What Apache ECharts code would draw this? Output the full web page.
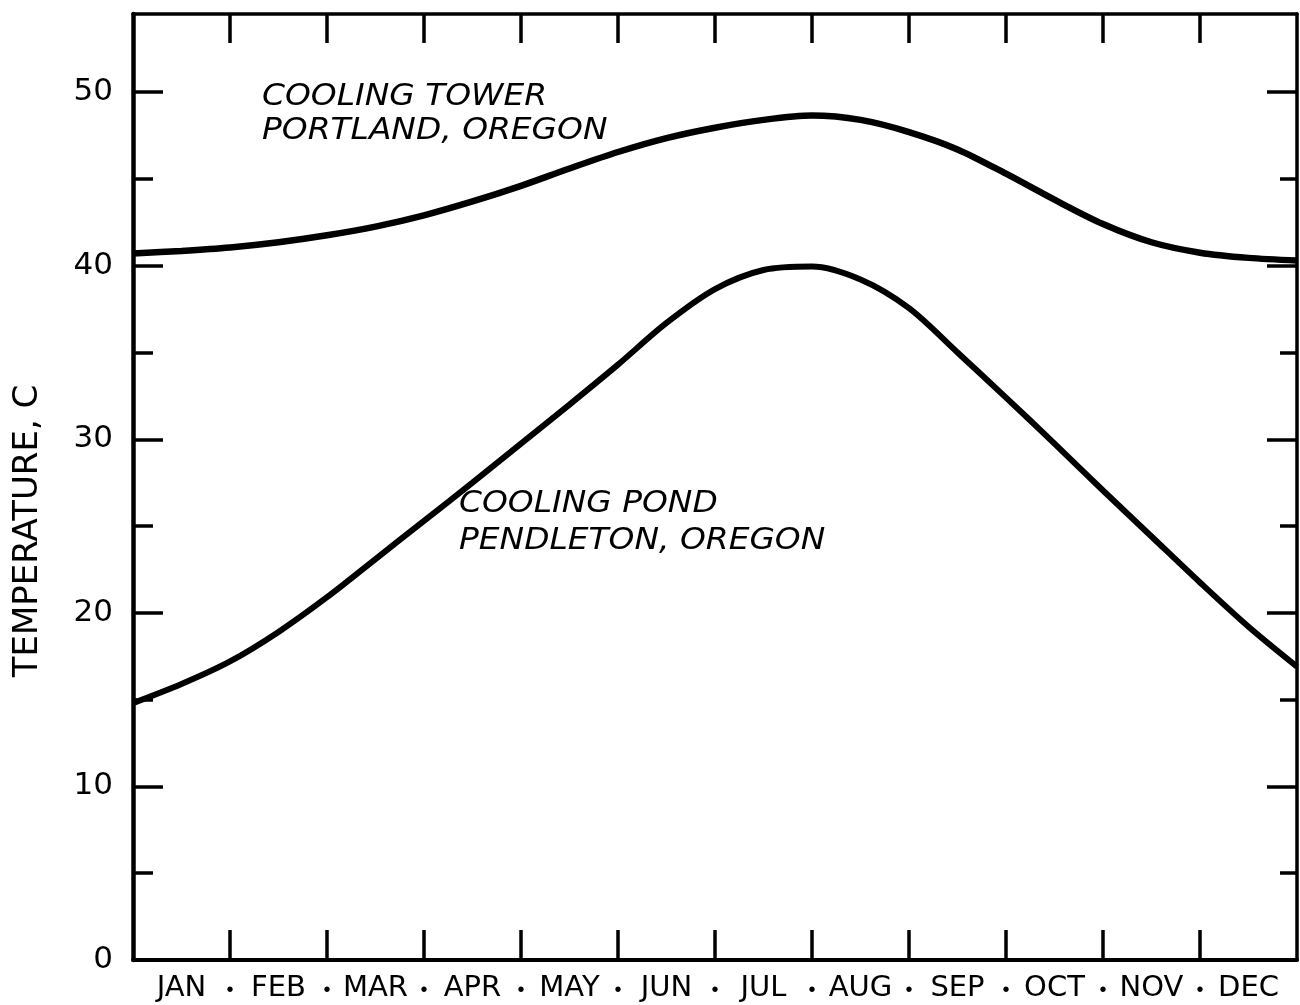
<!DOCTYPE html>
<html>
<head>
<meta charset="utf-8">
<script src="https://cdn.jsdelivr.net/npm/echarts@6/dist/echarts.min.js"></script>
<style>
html,body{margin:0;padding:0;background:#ffffff;}
#chart{width:1300px;height:1005px;}
</style>
</head>
<body>
<div id="chart"></div>
<script>
// ---- data (x in months from start of January) ----
const monthPos   = [0,0.5,1,1.5,2,2.5,3,3.5,4,4.5,5,5.5,6,6.5,7,7.5,8,8.5,9,9.5,10,10.5,11,11.5,12];
const towerTemp  = [40.7,40.85,41.05,41.35,41.75,42.25,42.9,43.7,44.6,45.6,46.55,47.35,47.95,48.4,48.65,48.4,47.7,46.7,45.3,43.8,42.4,41.35,40.75,40.45,40.3];
const pondTemp   = [14.8,15.9,17.2,18.9,20.9,23.1,25.3,27.5,29.75,32.0,34.3,36.7,38.65,39.75,39.95,39.2,37.55,35.0,32.4,29.75,27.05,24.4,21.75,19.2,16.9];
const monthNames = ['JAN','FEB','MAR','APR','MAY','JUN','JUL','AUG','SEP','OCT','NOV','DEC'];
const monthCenters = [0.5,1.5,2.5,3.5,4.5,5.5,6.5,7.5,8.5,9.5,10.5,11.5];
const monthEdges   = [1,2,3,4,5,6,7,8,9,10,11];
const yMajor = [0,10,20,30,40,50];
const yMinor = [5,15,25,35,45];
const yTitle = 'TEMPERATURE, C';
const towerLabel = ['COOLING TOWER','PORTLAND, OREGON'];
const pondLabel  = ['COOLING POND','PENDLETON, OREGON'];

const FONT = '"DejaVu Sans", "Liberation Sans", sans-serif';
const BLACK = '#000000';
const zip = (xs, ys) => xs.map((x, i) => [x, ys[i]]);

const chart = echarts.init(document.getElementById('chart'), null, {renderer: 'canvas'});

const baseX = {type: 'value', min: 0, max: 12, splitLine: {show: false}};
const baseY = {type: 'value', min: 0, max: 54.5, splitLine: {show: false}};
const noteStyle = text => ({text: text, font: 'italic 31px ' + FONT, fill: BLACK,
                            textVerticalAlign: 'middle', textAlign: 'left'});

const option = {
  backgroundColor: '#ffffff',
  animation: false,
  grid: {left: 133, right: 3, top: 14, bottom: 45, containLabel: false},
  xAxis: [
    Object.assign({}, baseX, {
      position: 'bottom',
      axisLine: {onZero: false, lineStyle: {color: BLACK, width: 4}},
      axisTick: {inside: true, length: 30, customValues: monthEdges, lineStyle: {color: BLACK, width: 3.5}},
      axisLabel: {customValues: monthCenters, formatter: v => monthNames[Math.floor(v)],
                  fontSize: 29, fontFamily: FONT, color: BLACK, margin: 14}
    }),
    Object.assign({}, baseX, {
      position: 'bottom',
      axisLine: {show: false, onZero: false},
      axisTick: {show: false},
      axisLabel: {customValues: monthEdges, formatter: () => '\u2022',
                  fontSize: 20, fontFamily: '"Liberation Sans", sans-serif', color: BLACK, margin: 20}
    }),
    Object.assign({}, baseX, {
      position: 'top',
      axisLine: {onZero: false, lineStyle: {color: BLACK, width: 3.5}},
      axisTick: {inside: true, length: 29, customValues: monthEdges, lineStyle: {color: BLACK, width: 3.5}},
      axisLabel: {show: false}
    })
  ],
  yAxis: [
    Object.assign({}, baseY, {
      position: 'left',
      axisLine: {onZero: false, lineStyle: {color: BLACK, width: 4.5}},
      axisTick: {inside: true, length: 30, customValues: yMajor, lineStyle: {color: BLACK, width: 3.5}},
      axisLabel: {customValues: yMajor, fontSize: 31, fontFamily: FONT, color: BLACK, margin: 20}
    }),
    Object.assign({}, baseY, {
      position: 'left',
      axisLine: {show: false, onZero: false},
      axisTick: {inside: true, length: 20, customValues: yMinor, lineStyle: {color: BLACK, width: 3.5}},
      axisLabel: {show: false}
    }),
    Object.assign({}, baseY, {
      position: 'right',
      axisLine: {onZero: false, lineStyle: {color: BLACK, width: 3.5}},
      axisTick: {inside: true, length: 30, customValues: yMajor, lineStyle: {color: BLACK, width: 3.5}},
      axisLabel: {show: false}
    }),
    Object.assign({}, baseY, {
      position: 'right',
      axisLine: {show: false, onZero: false},
      axisTick: {inside: true, length: 17, customValues: yMinor, lineStyle: {color: BLACK, width: 3.5}},
      axisLabel: {show: false}
    })
  ],
  series: [
    {
      name: towerLabel.join(' '),
      type: 'line',
      xAxisIndex: 0, yAxisIndex: 0,
      data: zip(monthPos, towerTemp),
      smooth: 0.3,
      showSymbol: false,
      symbol: 'none',
      lineStyle: {color: BLACK, width: 6.5}
    },
    {
      name: pondLabel.join(' '),
      type: 'line',
      xAxisIndex: 0, yAxisIndex: 0,
      data: zip(monthPos, pondTemp),
      smooth: 0.3,
      showSymbol: false,
      symbol: 'none',
      lineStyle: {color: BLACK, width: 6}
    }
  ],
  graphic: [
    {type: 'text', x: 28, y: 531, rotation: Math.PI / 2,
     style: {text: yTitle, font: '34px ' + FONT, fill: BLACK, textAlign: 'center', textVerticalAlign: 'middle'}},
    {type: 'text', x: 262, y: 97,  scaleX: 1.06, style: noteStyle(towerLabel[0])},
    {type: 'text', x: 262, y: 131, scaleX: 1.06, style: noteStyle(towerLabel[1])},
    {type: 'text', x: 459, y: 504, scaleX: 1.06, style: noteStyle(pondLabel[0])},
    {type: 'text', x: 459, y: 541, scaleX: 1.06, style: noteStyle(pondLabel[1])}
  ]
};
chart.setOption(option);
</script>
</body>
</html>
